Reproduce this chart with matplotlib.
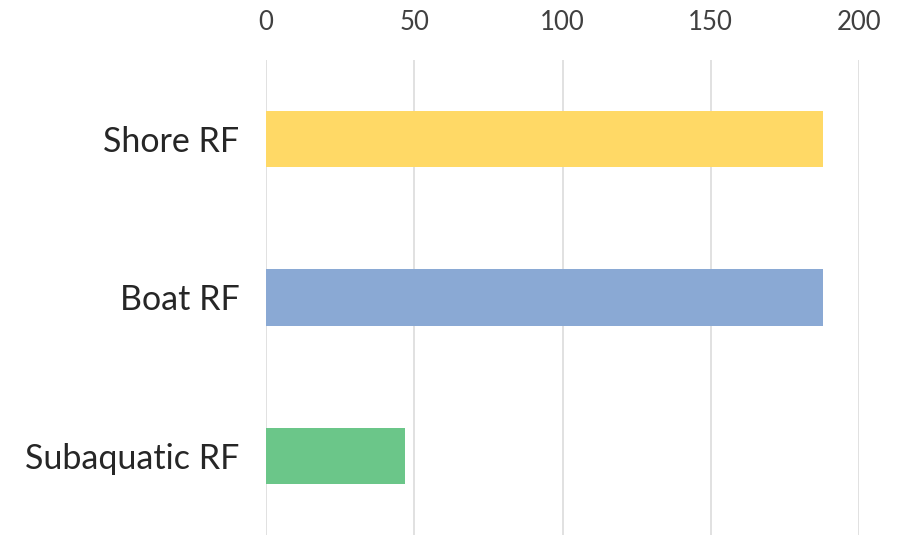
import matplotlib
matplotlib.use("Agg")
import matplotlib.pyplot as plt

# ── data ────────────────────────────────────────────
categories = ["Shore RF", "Boat RF", "Subaquatic RF"]
values = [188, 188, 47]
bar_colors = ["#FFD966", "#8AA9D4", "#6BC689"]
x_ticks = [0, 50, 100, 150, 200]

plt.rcParams["font.family"] = ["Lato", "DejaVu Sans"]

fig = plt.figure(figsize=(8.97, 5.35), dpi=100)
fig.patch.set_facecolor("white")
ax = fig.add_axes([266 / 897, 0, (859 - 266) / 897, (535 - 60) / 535])

pos = list(range(len(categories)))
ax.barh(pos, values, height=0.355, color=bar_colors, zorder=2)

ax.set_xlim(0, 200)
ax.set_ylim(len(categories) - 0.5, -0.5)
ax.set_xticks(x_ticks)
ax.set_xticklabels([str(t) for t in x_ticks])
ax.set_yticks(pos)
ax.set_yticklabels(categories)

ax.xaxis.tick_top()
ax.xaxis.grid(True, color="#d9d9d9", linewidth=1.1, zorder=0)
ax.set_axisbelow(True)
for s in ax.spines.values():
    s.set_visible(False)

ax.tick_params(axis="x", length=0, pad=18, labelsize=18.5, colors="#404040")
ax.tick_params(axis="y", length=0, pad=19, labelsize=24.5, colors="#262626")

fig.savefig("out.png", dpi=100, facecolor="white")
